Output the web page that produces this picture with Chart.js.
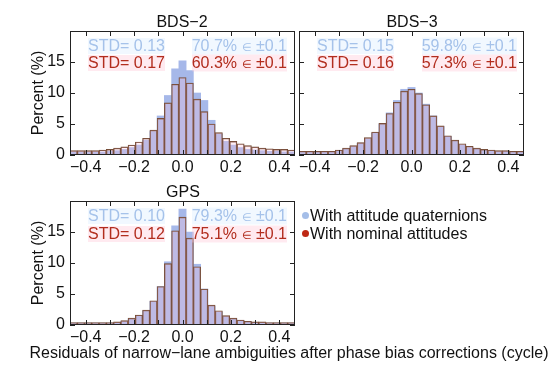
<!DOCTYPE html>
<html>
<head>
<meta charset="utf-8">
<script src="https://cdn.jsdelivr.net/npm/chart.js@4.4.1/dist/chart.umd.min.js"></script>
<style>
  body { margin: 0; width: 550px; height: 368px; position: relative; background: #fff; overflow: hidden;
         font-family: "Liberation Sans", Arial, sans-serif; color: #111; }
  canvas { position: absolute; }
  .t { position: absolute; font-size: 16px; line-height: 16px; white-space: nowrap; }
  .c { transform: translate(-50%, -50%); }
  .m { transform: translateY(-50%); }
  .blue { color: rgb(165, 194, 234); background: rgba(225, 240, 255, 0.45); }
  .red { color: rgb(178, 45, 30); background: rgba(255, 195, 212, 0.35); }
  .in { font-size: 11px; }
  .dot { display: inline-block; width: 7px; height: 7px; border-radius: 50%; margin-right: 1px; vertical-align: 2px; }
</style>
</head>
<body>
<canvas id="bds2" width="300" height="180" style="left:0;top:0"></canvas>
<canvas id="bds3" width="240" height="180" style="left:290px;top:0"></canvas>
<canvas id="gps" width="300" height="180" style="left:0;top:170px"></canvas>

<div class="t c" style="left:182px;top:22px">BDS−2</div>
<div class="t c" style="left:412px;top:22px">BDS−3</div>
<div class="t c" style="left:183px;top:192px">GPS</div>

<div class="t m blue" style="left:88px;top:46px">STD= 0.13</div>
<div class="t m blue" style="right:263px;top:46px">70.7% <span class="in">∈</span> ±0.1</div>
<div class="t m red" style="left:88px;top:63px">STD= 0.17</div>
<div class="t m red" style="right:263px;top:63px">60.3% <span class="in">∈</span> ±0.1</div>

<div class="t m blue" style="left:317px;top:46px">STD= 0.15</div>
<div class="t m blue" style="right:33px;top:46px">59.8% <span class="in">∈</span> ±0.1</div>
<div class="t m red" style="left:317px;top:63px">STD= 0.16</div>
<div class="t m red" style="right:33px;top:63px">57.3% <span class="in">∈</span> ±0.1</div>

<div class="t m blue" style="left:88px;top:216px">STD= 0.10</div>
<div class="t m blue" style="right:263px;top:216px">79.3% <span class="in">∈</span> ±0.1</div>
<div class="t m red" style="left:88px;top:234px">STD= 0.12</div>
<div class="t m red" style="right:263px;top:234px">75.1% <span class="in">∈</span> ±0.1</div>

<div class="t m" style="left:302px;top:216px"><span class="dot" style="background:rgb(165,190,232)"></span>With attitude quaternions</div>
<div class="t m" style="left:302px;top:234px"><span class="dot" style="background:rgb(190,40,20)"></span>With nominal attitudes</div>

<div class="t c" style="left:289px;top:353px">Residuals of narrow−lane ambiguities after phase bias corrections (cycle)</div>

<script>
// bin centres (cycle), bin width 0.03
const binCenters = [-0.45, -0.42, -0.39, -0.36, -0.33, -0.30, -0.27, -0.24, -0.21, -0.18, -0.15, -0.12, -0.09, -0.06, -0.03,
  0, 0.03, 0.06, 0.09, 0.12, 0.15, 0.18, 0.21, 0.24, 0.27, 0.30, 0.33, 0.36, 0.39, 0.42, 0.45];

// percent per bin
const bds2Quat = [0.5, 0.5, 0.5, 0.5, 0.5, 0.6, 0.7, 0.9, 1.2, 1.6, 2.4, 3.8, 6.3, 9.6, 13.9,
  15.2, 13.6, 10.0, 8.8, 5.6, 3.4, 2.2, 1.6, 1.2, 0.9, 0.8, 0.7, 0.6, 0.6, 0.5, 0.5];
const bds2Nom = [0.7, 0.7, 0.7, 0.7, 0.8, 0.9, 1.1, 1.3, 1.6, 2.1, 2.7, 4.0, 5.9, 8.4, 11.4,
  12.5, 11.6, 9.0, 7.0, 5.0, 3.6, 2.7, 2.2, 1.8, 1.5, 1.3, 1.1, 1.0, 0.9, 0.9, 0.8];
const bds3Quat = [0.5, 0.5, 0.5, 0.5, 0.5, 0.7, 1.0, 1.4, 1.9, 2.6, 3.5, 5.0, 6.8, 8.8, 10.6,
  10.9, 10.0, 8.2, 6.3, 4.6, 3.0, 2.2, 1.6, 1.2, 1.0, 0.8, 0.7, 0.6, 0.6, 0.5, 0.5];
const bds3Nom = [0.6, 0.6, 0.6, 0.6, 0.6, 0.8, 1.1, 1.5, 2.0, 2.8, 3.7, 5.1, 6.7, 8.5, 10.3,
  10.6, 9.9, 8.1, 6.3, 4.7, 3.1, 2.4, 1.8, 1.4, 1.1, 0.9, 0.8, 0.7, 0.7, 0.6, 0.6];
const gpsQuat = [0.3, 0.3, 0.3, 0.3, 0.3, 0.3, 0.4, 0.6, 1.0, 1.5, 2.3, 3.8, 6.2, 10.2, 16.0,
  18.7, 15.0, 9.8, 5.8, 3.0, 2.1, 1.4, 1.0, 0.7, 0.5, 0.4, 0.4, 0.3, 0.3, 0.3, 0.3];
const gpsNom = [0.4, 0.4, 0.4, 0.4, 0.4, 0.4, 0.5, 0.7, 1.1, 1.6, 2.4, 3.9, 6.2, 9.9, 15.2,
  17.4, 14.0, 9.4, 5.8, 3.2, 2.3, 1.5, 1.1, 0.8, 0.6, 0.5, 0.5, 0.4, 0.4, 0.4, 0.4];

const xTickLabels = [-0.4, -0.2, 0, 0.2, 0.4];
const xTickMarks = [-0.4, -0.3, -0.2, -0.1, 0, 0.1, 0.2, 0.3, 0.4];
const yTicks = [0, 5, 10, 15];

const quatFill = "rgb(166, 184, 233)";
const nomFill = "rgba(255, 195, 215, 0.28)";
const nomEdge = "rgb(112, 72, 50)";

// box with inward ticks on all four sides
const framePlugin = {
  id: "frame",
  afterDatasetsDraw(chart) {
    const { ctx, chartArea: a, scales: { x, y } } = chart;
    ctx.save();
    ctx.strokeStyle = "#222";
    ctx.lineWidth = 1;
    ctx.strokeRect(a.left + 0.5, a.top + 0.5, a.width - 1, a.height - 1);
    ctx.beginPath();
    xTickMarks.forEach(v => {
      const px = Math.round(x.getPixelForValue(v)) + 0.5;
      ctx.moveTo(px, a.top); ctx.lineTo(px, a.top + 5);
      ctx.moveTo(px, a.bottom); ctx.lineTo(px, a.bottom - 5);
    });
    yTicks.forEach(v => {
      const py = Math.round(y.getPixelForValue(v)) + 0.5;
      ctx.moveTo(a.left, py); ctx.lineTo(a.left + 5, py);
      ctx.moveTo(a.right, py); ctx.lineTo(a.right - 5, py);
    });
    ctx.stroke();
    ctx.restore();
  }
};

const makeHist = (id, quat, nom, showY, pad) => {
  const ctx = document.getElementById(id);
  return new Chart(ctx, {
    type: "bar",
    data: {
      datasets: [
        {
          label: "With nominal attitudes",
          data: binCenters.map((x, i) => ({ x, y: nom[i] })),
          backgroundColor: nomFill,
          borderColor: nomEdge,
          borderWidth: 0.7,
          order: 1,
        },
        {
          label: "With attitude quaternions",
          data: binCenters.map((x, i) => ({ x, y: quat[i] })),
          backgroundColor: quatFill,
          borderWidth: 0,
          order: 2,
        },
      ],
    },
    options: {
      responsive: false,
      animation: false,
      devicePixelRatio: 1,
      layout: { padding: pad },
      datasets: { bar: { barPercentage: 1, categoryPercentage: 1, grouped: false } },
      plugins: { legend: { display: false }, tooltip: { enabled: false } },
      scales: {
        x: {
          type: "linear",
          min: -0.465,
          max: 0.465,
          offset: false,
          grid: { display: false, drawTicks: false, offset: false },
          border: { display: false },
          afterBuildTicks: s => { s.ticks = xTickLabels.map(v => ({ value: v })); },
          afterFit: s => { s.height = 25; },
          ticks: {
            padding: 3,
            color: "#111",
            font: { family: "Liberation Sans", size: 16 },
            callback: v => v.toFixed(1).replace("-", "−"),
          },
        },
        y: {
          min: 0,
          max: 20,
          grid: { display: false, drawTicks: false },
          border: { display: false },
          afterBuildTicks: s => { s.ticks = yTicks.map(v => ({ value: v })); },
          afterFit: s => { s.width = showY ? 44 : 0; },
          ticks: {
            display: showY,
            padding: 5,
            color: "#111",
            font: { family: "Liberation Sans", size: 16 },
          },
          title: {
            display: showY,
            text: "Percent (%)",
            color: "#111",
            font: { family: "Liberation Sans", size: 16 },
            padding: { top: 3, bottom: 0 },
          },
        },
      },
    },
    plugins: [framePlugin],
  });
};

makeHist("bds2", bds2Quat, bds2Nom, true, { left: 26, right: 5, top: 31, bottom: 0 });
makeHist("bds3", bds3Quat, bds3Nom, false, { left: 9, right: 6, top: 31, bottom: 0 });
makeHist("gps", gpsQuat, gpsNom, true, { left: 26, right: 5, top: 31, bottom: 0 });
</script>
</body>
</html>
